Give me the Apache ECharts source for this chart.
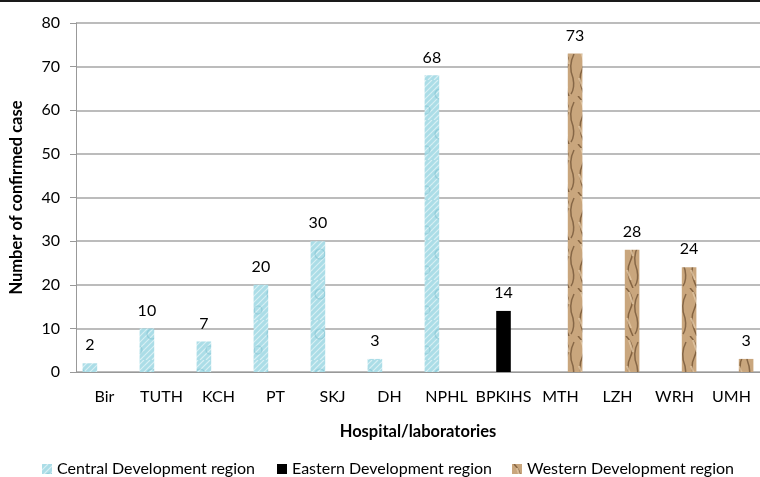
<!DOCTYPE html>
<html>
<head>
<meta charset="utf-8">
<script src="https://cdn.jsdelivr.net/npm/echarts@6/dist/echarts.min.js"></script>
<style>
  html, body { margin: 0; padding: 0; background: #fff; }
  #chart { width: 760px; height: 477px; }
</style>
</head>
<body>
<div id="chart"></div>
<script>
// hospitals / labs on the x axis
const categories = ['Bir', 'TUTH', 'KCH', 'PT', 'SKJ', 'DH', 'NPHL', 'BPKIHS', 'MTH', 'LZH', 'WRH', 'UMH'];
const seriesNames = ['Central Development region', 'Eastern Development region', 'Western Development region'];
// confirmed cases per region (null = lab not in that region)
const centralCases = [2, 10, 7, 20, 30, 3, 68, null, null, null, null, null];
const easternCases = [null, null, null, null, null, null, null, 14, null, null, null, null];
const westernCases = [null, null, null, null, null, null, null, null, 73, 28, 24, 3];

const FONT = 'Lato, "Open Sans", sans-serif';

// texture fills, roughly like the office-style fills in the original
function makeWaterTexture() {
  const c = document.createElement('canvas');
  c.width = 24; c.height = 40;
  const ctx = c.getContext('2d');
  ctx.fillStyle = '#abdde7';
  ctx.fillRect(0, 0, 24, 40);
  ctx.strokeStyle = 'rgba(255,255,255,0.55)';
  ctx.lineWidth = 1.2;
  for (let i = -40; i < 40; i += 6) {
    ctx.beginPath();
    ctx.moveTo(i, 40);
    ctx.lineTo(i + 40, 0);
    ctx.stroke();
  }
  ctx.strokeStyle = 'rgba(120,190,205,0.5)';
  ctx.beginPath();
  ctx.arc(8, 14, 5, 0, Math.PI * 2);
  ctx.stroke();
  ctx.beginPath();
  ctx.arc(18, 30, 4, 0, Math.PI * 2);
  ctx.stroke();
  return c;
}

function makeWoodTexture() {
  const c = document.createElement('canvas');
  c.width = 16; c.height = 48;
  const ctx = c.getContext('2d');
  ctx.fillStyle = '#c9a67d';
  ctx.fillRect(0, 0, 16, 48);
  ctx.strokeStyle = 'rgba(110,78,45,0.75)';
  ctx.lineWidth = 1.5;
  ctx.beginPath();
  ctx.moveTo(2, 0); ctx.quadraticCurveTo(12, 10, 6, 22); ctx.quadraticCurveTo(1, 32, 9, 48);
  ctx.stroke();
  ctx.strokeStyle = 'rgba(90,62,35,0.6)';
  ctx.beginPath();
  ctx.moveTo(14, 6); ctx.quadraticCurveTo(8, 18, 13, 30); ctx.quadraticCurveTo(15, 40, 11, 46);
  ctx.stroke();
  ctx.strokeStyle = 'rgba(235,210,175,0.7)';
  ctx.lineWidth = 2;
  ctx.beginPath();
  ctx.moveTo(5, 4); ctx.lineTo(9, 16);
  ctx.moveTo(3, 30); ctx.lineTo(7, 40);
  ctx.stroke();
  return c;
}

const fills = [
  { image: makeWaterTexture(), repeat: 'repeat' },
  '#000000',
  { image: makeWoodTexture(), repeat: 'repeat' }
];
const seriesData = [centralCases, easternCases, westernCases];

const chart = echarts.init(document.getElementById('chart'));

const option = {
  animation: false,
  grid: { left: 69, top: 23, width: 701, height: 349 },
  graphic: [{
    type: 'rect',
    shape: { x: 0, y: 0, width: 760, height: 2 },
    style: { fill: '#1a1a1a' }
  }],
  legend: [0, 1, 2].map((i) => ({
    data: [seriesNames[i]],
    left: [37, 272, 507][i],
    top: 456,
    icon: 'rect',
    itemWidth: 10,
    itemHeight: 10,
    itemGap: 5,
    textStyle: { fontFamily: FONT, fontSize: 16, color: '#000' }
  })),
  xAxis: {
    type: 'category',
    data: categories,
    name: 'Hospital/laboratories',
    nameLocation: 'middle',
    nameGap: 51,
    nameTextStyle: { fontFamily: FONT, fontSize: 16.5, fontWeight: 'bold', color: '#000' },
    axisLine: { lineStyle: { color: '#999', width: 1 } },
    axisTick: { length: 6, lineStyle: { color: '#999' } },
    axisLabel: { fontFamily: FONT, fontSize: 16, color: '#000', margin: 17, interval: 0 }
  },
  yAxis: {
    type: 'value',
    min: 0,
    max: 80,
    interval: 10,
    name: 'Number of confirmed case',
    nameLocation: 'middle',
    nameGap: 51,
    nameTextStyle: { fontFamily: FONT, fontSize: 16.5, fontWeight: 'bold', color: '#000' },
    axisLine: { show: true, lineStyle: { color: '#999', width: 1 } },
    axisTick: { show: true, length: 6, lineStyle: { color: '#999' } },
    axisLabel: { fontFamily: FONT, fontSize: 16, color: '#000', margin: 16 },
    splitLine: { lineStyle: { color: '#a6a6a6', width: 1.5 } }
  },
  series: seriesNames.map((name, i) => ({
    name: name,
    type: 'bar',
    data: seriesData[i],
    barWidth: 14.6,
    barGap: '0%',
    itemStyle: { color: fills[i] },
    label: {
      show: true,
      position: 'top',
      distance: 10,
      fontFamily: FONT,
      fontSize: 16,
      color: '#000'
    }
  }))
};

chart.setOption(option);
window.addEventListener('resize', function () {
  chart.resize();
});
</script>
</body>
</html>
